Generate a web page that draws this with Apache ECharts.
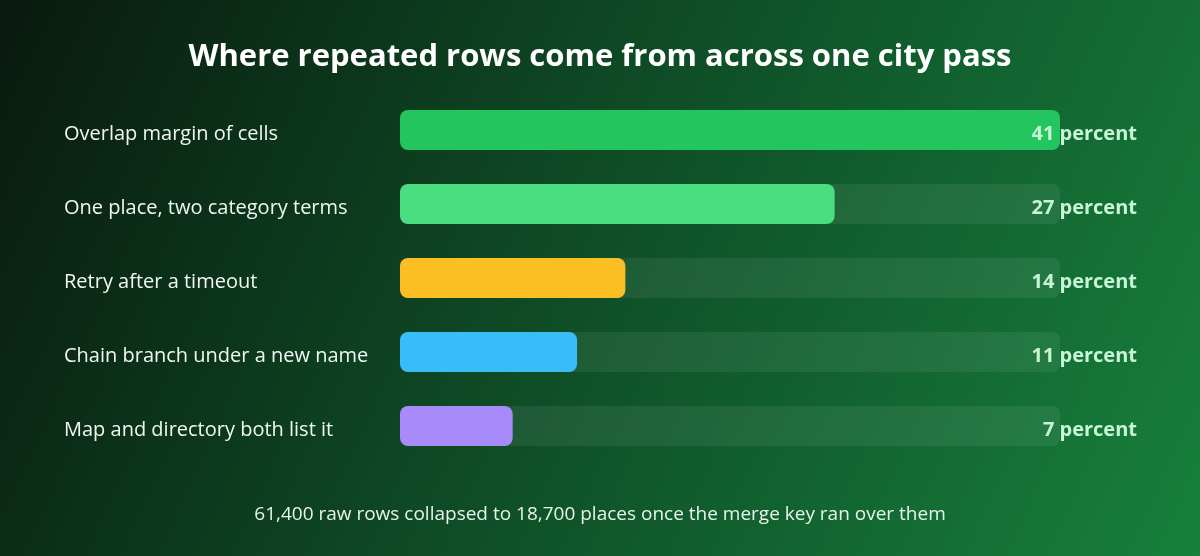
<!DOCTYPE html>
<html><head><meta charset="utf-8">
<script src="https://cdn.jsdelivr.net/npm/echarts@6/dist/echarts.min.js"></script>
<style>html,body{margin:0;padding:0;}#c{width:1200px;height:556px;}</style>
</head><body><div id="c"></div>
<script>
const categories = ["Overlap margin of cells","One place, two category terms","Retry after a timeout","Chain branch under a new name","Map and directory both list it"];
const values = [41, 27, 14, 11, 7];
const barColors = ["#22c55e","#4ade80","#fbbf24","#38bdf8","#a78bfa"];
const unit = "percent";
const maxValue = 41;
const titleText = "Where repeated rows come from across one city pass";
const footText = "61,400 raw rows collapsed to 18,700 places once the merge key ran over them";

const font = "'Open Sans', 'Noto Sans', sans-serif";
const chart = echarts.init(document.getElementById('c'));
chart.setOption({
  backgroundColor: new echarts.graphic.LinearGradient(0,0,1,1,[
    {offset:0,color:'#09190f'},{offset:0.5,color:'#0f4f27'},{offset:1,color:'#17803c'}
  ]),
  title: [{text:titleText,left:'center',top:37,textStyle:{color:'#ffffff',fontSize:31,fontWeight:'bold',fontFamily:font}},
          {text:footText,left:'center',top:500,textStyle:{color:'#e6f4ea',fontSize:19,fontWeight:'normal',fontFamily:font}}],
  grid:{left:400,right:140,top:93,height:370},
  xAxis:{type:'value',min:0,max:maxValue,show:false},
  yAxis:{type:'category',data:categories,inverse:true,axisLine:{show:false},axisTick:{show:false},
    axisLabel:{align:'left',margin:336,formatter:v=>'{a|'+v+'}',
      rich:{a:{color:'#f0f7f2',fontSize:20,fontFamily:font,padding:[9,0,0,0]}}}},
  series:[
    {type:'bar',data:categories.map(()=>maxValue),barWidth:40,barGap:'-100%',silent:true,
     itemStyle:{color:'rgba(255,255,255,0.07)',borderRadius:8},z:1},
    {type:'bar',data:values.map((v,i)=>({value:v,itemStyle:{color:barColors[i]}})),barWidth:40,barGap:'-100%',
     itemStyle:{borderRadius:8},z:2},
    {type:'bar',data:categories.map(()=>maxValue),barWidth:40,barGap:'-100%',silent:true,
     itemStyle:{color:'rgba(0,0,0,0)'},z:3,
     label:{show:true,position:'insideRight',offset:[82,4],color:'#c8f5d6',fontSize:20,fontWeight:'bold',fontFamily:font,
       formatter:p=>values[p.dataIndex]+' '+unit}}
  ]
});
</script></body></html>
